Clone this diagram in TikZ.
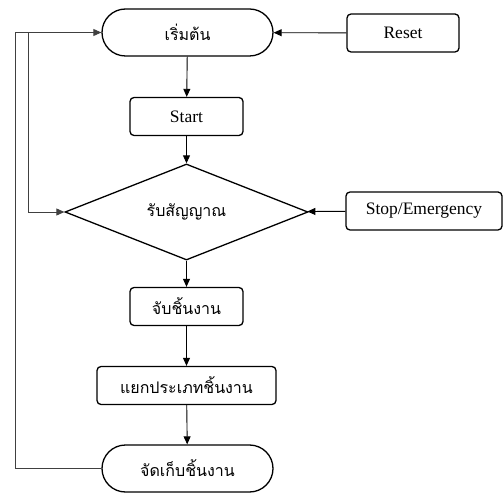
\documentclass[tikz,border=0pt]{standalone}
\usepackage{fontspec}
\setmainfont{Liberation Serif}
\newfontfamily\thai[Script=Thai]{Loma}
\usetikzlibrary{arrows.meta,shapes.geometric}
\begin{document}
\begin{tikzpicture}[x=1pt,y=-1pt,
  every node/.style={font=\fontsize{17.5}{20}\selectfont, inner sep=0pt},
  th/.style={font=\thai\fontsize{16}{19}\selectfont},
  term/.style={draw, line width=1.3pt, rounded corners=23.5pt, minimum width=171pt, minimum height=47pt},
  box/.style={draw, line width=1.3pt, rounded corners=4pt, minimum height=38pt},
  dec/.style={draw, diamond, line width=1.3pt, minimum width=243pt, minimum height=72pt},
  arr/.style={line width=0.9pt, -{Triangle[length=8pt,width=7pt]}},
  fb/.style={line width=0.9pt, draw=black!75}
]
\useasboundingbox (0,0) rectangle (503,494);
\node[term, th] (t1) at (187.5,32.5) {เริ่มต้น};
\node[box, minimum width=112pt] (reset) at (403,33) {Reset};
\node[box, minimum width=113pt] (start) at (186.5,116.5) {Start};
\node[dec, th] (dia) at (186.5,212) {รับสัญญาณ};
\node[box, minimum width=156pt] (stop) at (424,211) {Stop/Emergency};
\node[box, th, minimum width=113pt] (grab) at (186.5,306.5) {จับชิ้นงาน};
\node[box, th, minimum width=179pt] (sort) at (186.5,385.5) {แยกประเภทชิ้นงาน};
\node[term, th] (t2) at (187.5,468.5) {จัดเก็บชิ้นงาน};
\coordinate (lb) at (15,468.5);
\coordinate (lt) at (15,32.5);
\coordinate (it) at (28,32.5);
\coordinate (ib) at (28,212);
\draw[arr] (reset) -- (t1);
\draw[arr] (t1) -- (start);
\draw[arr] (start) -- (dia);
\draw[arr] (stop) -- (dia);
\draw[arr] (dia) -- (grab);
\draw[arr] (grab) -- (sort);
\draw[arr] (sort) -- (t2);
\draw[fb] (t2.west) -- (lb) -- (lt);
\draw[fb, arr] (lt) -- (t1.west);
\draw[fb, arr] (it) -- (ib) -- (dia.west);
\end{tikzpicture}
\end{document}
